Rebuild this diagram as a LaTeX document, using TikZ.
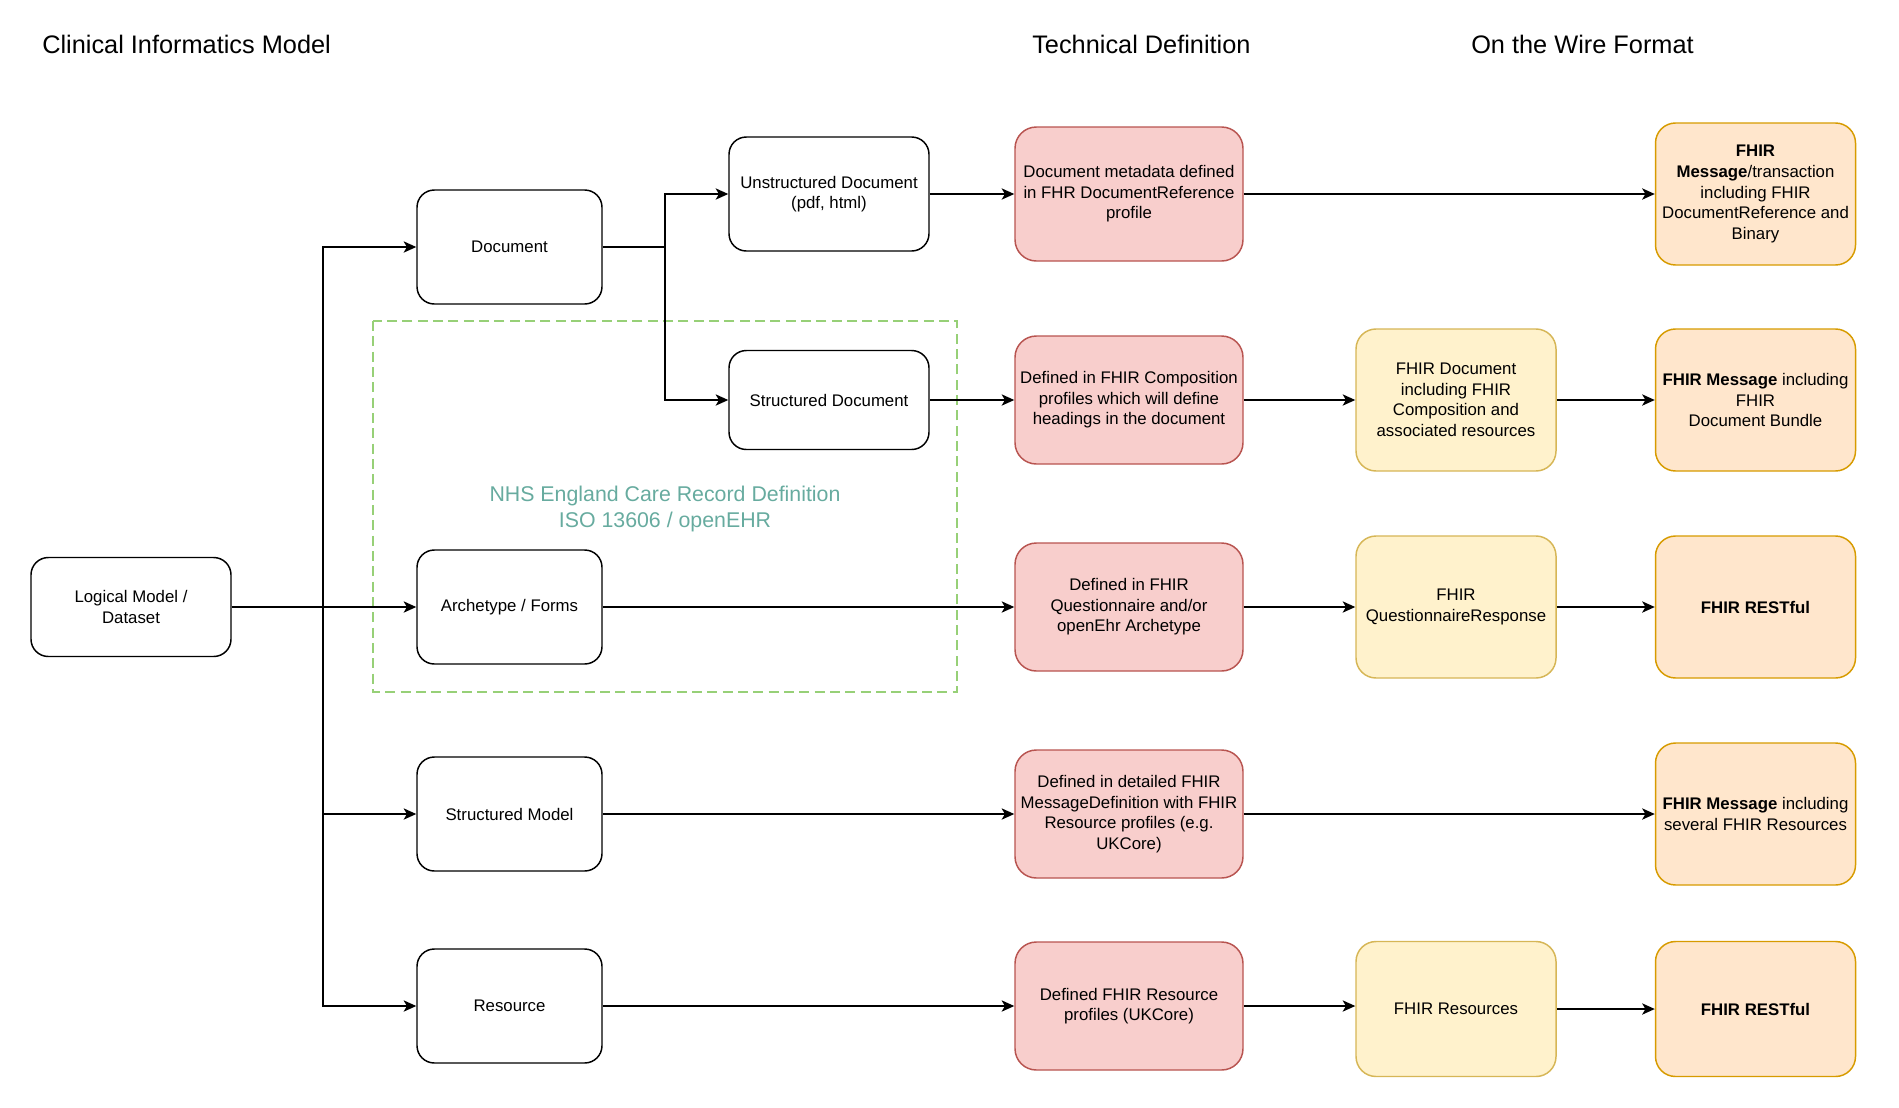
\documentclass[tikz,border=0pt]{standalone}
\usepackage{fontspec}
\setmainfont{Liberation Sans}
\usetikzlibrary{arrows.meta}
\definecolor{redfill}{HTML}{F8CECC}
\definecolor{redline}{HTML}{B85450}
\definecolor{yelfill}{HTML}{FFF2CC}
\definecolor{yelline}{HTML}{D6B656}
\definecolor{orfill}{HTML}{FFE6CC}
\definecolor{orline}{HTML}{D79B00}
\definecolor{grdash}{HTML}{97D077}
\definecolor{grtext}{HTML}{67AB9F}
\tikzset{
  base/.style={rounded corners=13pt, line width=1.1pt, align=center, inner sep=2pt,
    font=\fontsize{12.6pt}{15.4pt}\selectfont},
  plainbox/.style={base, draw=black, fill=white},
  redbox/.style={base, draw=redline, fill=redfill, rounded corners=16pt, minimum width=171pt, minimum height=96pt},
  yelbox/.style={base, draw=yelline, fill=yelfill, rounded corners=15pt, minimum width=150pt, minimum height=106.5pt},
  orbox/.style={base, draw=orline, fill=orfill, rounded corners=15pt, minimum width=150pt, minimum height=106.5pt},
  colbox/.style={plainbox, minimum width=138.75pt, minimum height=85.5pt},
  conn/.style={line width=1pt, -{Stealth[length=9.5pt,width=8.5pt,inset=2.5pt]}},
  plainline/.style={line width=1pt},
  heading/.style={anchor=west, font=\fontsize{19pt}{23pt}\selectfont, inner sep=0pt},
}
\begin{document}
\begin{tikzpicture}[x=0.75pt,y=-0.75pt]
\useasboundingbox (0,0) rectangle (1899,1107);

% headings
\node[heading] (h1) at (42,44) {Clinical Informatics Model};
\node[heading] (h2) at (1032,44) {Technical Definition};
\node[heading] (h3) at (1471,44) {On the Wire Format};

% dashed group
\draw[grdash, line width=1.6pt, dash pattern=on 7.5pt off 4pt] (373,321) rectangle (957,692);
\node[font=\fontsize{16pt}{19pt}\selectfont, text=grtext, align=center] (grp) at (665,509)
  {NHS England Care Record Definition\\ISO 13606 / openEHR};

% column 1
\node[plainbox, minimum width=150pt, minimum height=74.25pt] (logical) at (131,607) {Logical Model /\\Dataset};

% column 2
\node[colbox] (doc) at (509.5,247) {Document};
\node[colbox] (arch) at (509.5,607) {Archetype / Forms};
\node[colbox] (smodel) at (509.5,814) {Structured Model};
\node[colbox] (res) at (509.5,1006) {Resource};

% column 3
\node[plainbox, minimum width=150pt, minimum height=85.5pt] (unstr) at (829,194) {Unstructured Document\\(pdf, html)};
\node[plainbox, minimum width=150pt, minimum height=74.25pt] (sdoc) at (829,400) {Structured Document};

% column 4 (red)
\node[redbox, minimum height=100.5pt] (r1) at (1129,194) {Document metadata defined\\in FHR DocumentReference\\profile};
\node[redbox] (r2) at (1129,400) {Defined in FHIR Composition\\profiles which will define\\headings in the document};
\node[redbox] (r3) at (1129,607) {Defined in FHIR\\Questionnaire and/or\\openEhr Archetype};
\node[redbox] (r4) at (1129,814) {Defined in detailed FHIR\\MessageDefinition with FHIR\\Resource profiles (e.g.\\UKCore)};
\node[redbox] (r5) at (1129,1006) {Defined FHIR Resource\\profiles (UKCore)};

% column 5 (yellow)
\node[yelbox] (y2) at (1456,400) {FHIR Document\\including FHIR\\Composition and\\associated resources};
\node[yelbox] (y3) at (1456,607) {FHIR\\QuestionnaireResponse};
\node[yelbox, minimum height=101.25pt] (y5) at (1456,1009) {FHIR Resources};

% column 6 (orange)
\node[orbox] (o1) at (1755.5,194) {\textbf{FHIR}\\\textbf{Message}/transaction\\including FHIR\\DocumentReference and\\Binary};
\node[orbox] (o2) at (1755.5,400) {\textbf{FHIR Message} including\\FHIR\\Document Bundle};
\node[orbox] (o3) at (1755.5,607) {\textbf{FHIR RESTful}};
\node[orbox] (o4) at (1755.5,814) {\textbf{FHIR Message} including\\several FHIR Resources};
\node[orbox, minimum height=101.25pt] (o5) at (1755.5,1009) {\textbf{FHIR RESTful}};

% trunk connectors
\coordinate (trunk) at (323,607);
\coordinate (dsplit) at (665,247);
\draw[plainline] (logical.east) -- (trunk);
\draw[conn] (trunk) |- (doc.west);
\draw[conn] (logical.east) -- (arch.west);
\draw[conn] (trunk) |- (smodel.west);
\draw[conn] (trunk) |- (res.west);

% document split
\draw[plainline] (doc.east) -- (dsplit);
\draw[conn] (dsplit) |- (unstr.west);
\draw[conn] (dsplit) |- (sdoc.west);

% rows
\draw[conn] (unstr.east) -- (r1.west);
\draw[conn] (r1.east) -- (o1.west);
\draw[conn] (sdoc.east) -- (r2.west);
\draw[conn] (r2.east) -- (y2.west);
\draw[conn] (y2.east) -- (o2.west);
\draw[conn] (arch.east) -- (r3.west);
\draw[conn] (r3.east) -- (y3.west);
\draw[conn] (y3.east) -- (o3.west);
\draw[conn] (smodel.east) -- (r4.west);
\draw[conn] (r4.east) -- (o4.west);
\draw[conn] (res.east) -- (r5.west);
\draw[conn] (r5.east) -- (y5.west |- r5.east);
\draw[conn] (y5.east) -- (o5.west);
\end{tikzpicture}
\end{document}
